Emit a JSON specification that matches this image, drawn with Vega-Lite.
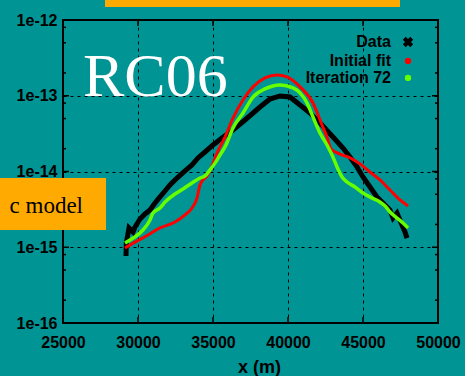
{
  "$schema": "https://vega.github.io/schema/vega-lite/v6.json",
  "width": 375,
  "height": 303,
  "autosize": "none",
  "padding": {"left": 63, "top": 20, "right": 27, "bottom": 53},
  "background": "#009494",
  "config": {
    "view": {"stroke": "#000000", "strokeWidth": 2, "fill": "#009494"},
    "axis": {
      "zindex": 0,
      "domain": false,
      "ticks": false,
      "grid": true,
      "gridColor": "#000000",
      "gridOpacity": 1,
      "gridWidth": 1,
      "gridDash": [3, 4],
      "labelFont": "Liberation Sans",
      "labelFontWeight": "bold",
      "labelFontSize": 16,
      "labelColor": "#000000",
      "titleFont": "Liberation Sans",
      "titleFontWeight": "bold",
      "titleColor": "#000000"
    }
  },
  "datasets": {
    "one": [{}],
    "yminor": [
      {"v": 2e-16}, {"v": 5e-16}, {"v": 8e-16},
      {"v": 2e-15}, {"v": 5e-15}, {"v": 8e-15},
      {"v": 2e-14}, {"v": 5e-14}, {"v": 8e-14},
      {"v": 2e-13}, {"v": 5e-13}, {"v": 8e-13}
    ],
    "ymajor": [{"v": 1e-15}, {"v": 1e-14}, {"v": 1e-13}],
    "xmajor": [{"v": 30000}, {"v": 35000}, {"v": 40000}, {"v": 45000}],
    "curves": [
      {"s": "Data", "x": 29200, "y": 7.66e-16},
      {"s": "Data", "x": 29220, "y": 1.14e-15},
      {"s": "Data", "x": 29400, "y": 1.80e-15},
      {"s": "Data", "x": 29667, "y": 1.59e-15},
      {"s": "Data", "x": 29800, "y": 1.85e-15},
      {"s": "Data", "x": 30133, "y": 2.36e-15},
      {"s": "Data", "x": 30467, "y": 2.75e-15},
      {"s": "Data", "x": 30800, "y": 3.10e-15},
      {"s": "Data", "x": 31133, "y": 3.84e-15},
      {"s": "Data", "x": 31467, "y": 4.61e-15},
      {"s": "Data", "x": 31800, "y": 5.53e-15},
      {"s": "Data", "x": 32133, "y": 6.64e-15},
      {"s": "Data", "x": 32600, "y": 8.20e-15},
      {"s": "Data", "x": 33133, "y": 1.02e-14},
      {"s": "Data", "x": 33600, "y": 1.22e-14},
      {"s": "Data", "x": 34000, "y": 1.51e-14},
      {"s": "Data", "x": 34467, "y": 1.81e-14},
      {"s": "Data", "x": 35000, "y": 2.24e-14},
      {"s": "Data", "x": 35600, "y": 2.77e-14},
      {"s": "Data", "x": 36333, "y": 3.53e-14},
      {"s": "Data", "x": 37133, "y": 4.79e-14},
      {"s": "Data", "x": 38133, "y": 7.10e-14},
      {"s": "Data", "x": 38800, "y": 9.06e-14},
      {"s": "Data", "x": 39467, "y": 9.93e-14},
      {"s": "Data", "x": 40133, "y": 9.62e-14},
      {"s": "Data", "x": 40800, "y": 7.55e-14},
      {"s": "Data", "x": 41467, "y": 5.92e-14},
      {"s": "Data", "x": 42133, "y": 4.37e-14},
      {"s": "Data", "x": 43000, "y": 2.85e-14},
      {"s": "Data", "x": 43667, "y": 2.04e-14},
      {"s": "Data", "x": 44133, "y": 1.55e-14},
      {"s": "Data", "x": 44600, "y": 1.15e-14},
      {"s": "Data", "x": 45000, "y": 8.46e-15},
      {"s": "Data", "x": 45467, "y": 6.24e-15},
      {"s": "Data", "x": 45933, "y": 4.61e-15},
      {"s": "Data", "x": 46333, "y": 3.84e-15},
      {"s": "Data", "x": 46800, "y": 3.10e-15},
      {"s": "Data", "x": 47000, "y": 2.43e-15},
      {"s": "Data", "x": 47267, "y": 2.83e-15},
      {"s": "Data", "x": 47600, "y": 1.97e-15},
      {"s": "Data", "x": 47800, "y": 1.59e-15},
      {"s": "Data", "x": 47933, "y": 1.32e-15},
      {"s": "Initial fit", "x": 29133, "y": 9.78e-16},
      {"s": "Initial fit", "x": 29800, "y": 1.17e-15},
      {"s": "Initial fit", "x": 30667, "y": 1.45e-15},
      {"s": "Initial fit", "x": 31467, "y": 1.80e-15},
      {"s": "Initial fit", "x": 32467, "y": 2.15e-15},
      {"s": "Initial fit", "x": 33133, "y": 2.67e-15},
      {"s": "Initial fit", "x": 33600, "y": 3.30e-15},
      {"s": "Initial fit", "x": 33933, "y": 4.47e-15},
      {"s": "Initial fit", "x": 34133, "y": 6.64e-15},
      {"s": "Initial fit", "x": 34333, "y": 7.73e-15},
      {"s": "Initial fit", "x": 34600, "y": 8.73e-15},
      {"s": "Initial fit", "x": 34933, "y": 1.18e-14},
      {"s": "Initial fit", "x": 35267, "y": 1.75e-14},
      {"s": "Initial fit", "x": 35800, "y": 2.85e-14},
      {"s": "Initial fit", "x": 36333, "y": 5.08e-14},
      {"s": "Initial fit", "x": 37000, "y": 8.79e-14},
      {"s": "Initial fit", "x": 37667, "y": 1.31e-13},
      {"s": "Initial fit", "x": 38467, "y": 1.72e-13},
      {"s": "Initial fit", "x": 39267, "y": 1.88e-13},
      {"s": "Initial fit", "x": 39933, "y": 1.77e-13},
      {"s": "Initial fit", "x": 40800, "y": 1.31e-13},
      {"s": "Initial fit", "x": 41667, "y": 8.02e-14},
      {"s": "Initial fit", "x": 42267, "y": 4.11e-14},
      {"s": "Initial fit", "x": 42600, "y": 2.85e-14},
      {"s": "Initial fit", "x": 42867, "y": 1.98e-14},
      {"s": "Initial fit", "x": 43467, "y": 1.70e-14},
      {"s": "Initial fit", "x": 44133, "y": 1.51e-14},
      {"s": "Initial fit", "x": 44800, "y": 1.26e-14},
      {"s": "Initial fit", "x": 45467, "y": 9.85e-15},
      {"s": "Initial fit", "x": 46133, "y": 7.73e-15},
      {"s": "Initial fit", "x": 46800, "y": 5.70e-15},
      {"s": "Initial fit", "x": 47467, "y": 4.21e-15},
      {"s": "Initial fit", "x": 48000, "y": 3.51e-15},
      {"s": "Iteration 72", "x": 29133, "y": 1.14e-15},
      {"s": "Iteration 72", "x": 29467, "y": 1.25e-15},
      {"s": "Iteration 72", "x": 29800, "y": 1.37e-15},
      {"s": "Iteration 72", "x": 30333, "y": 1.69e-15},
      {"s": "Iteration 72", "x": 30800, "y": 2.29e-15},
      {"s": "Iteration 72", "x": 31000, "y": 2.83e-15},
      {"s": "Iteration 72", "x": 31467, "y": 3.30e-15},
      {"s": "Iteration 72", "x": 31800, "y": 3.95e-15},
      {"s": "Iteration 72", "x": 32467, "y": 5.05e-15},
      {"s": "Iteration 72", "x": 33000, "y": 5.88e-15},
      {"s": "Iteration 72", "x": 33600, "y": 7.05e-15},
      {"s": "Iteration 72", "x": 34133, "y": 8.20e-15},
      {"s": "Iteration 72", "x": 34467, "y": 8.73e-15},
      {"s": "Iteration 72", "x": 34800, "y": 1.05e-14},
      {"s": "Iteration 72", "x": 35133, "y": 1.29e-14},
      {"s": "Iteration 72", "x": 35467, "y": 1.65e-14},
      {"s": "Iteration 72", "x": 35867, "y": 2.24e-14},
      {"s": "Iteration 72", "x": 36333, "y": 3.75e-14},
      {"s": "Iteration 72", "x": 37000, "y": 5.92e-14},
      {"s": "Iteration 72", "x": 37667, "y": 9.62e-14},
      {"s": "Iteration 72", "x": 38467, "y": 1.23e-13},
      {"s": "Iteration 72", "x": 39467, "y": 1.39e-13},
      {"s": "Iteration 72", "x": 40333, "y": 1.27e-13},
      {"s": "Iteration 72", "x": 40800, "y": 1.09e-13},
      {"s": "Iteration 72", "x": 41267, "y": 8.02e-14},
      {"s": "Iteration 72", "x": 41667, "y": 5.24e-14},
      {"s": "Iteration 72", "x": 42133, "y": 3.22e-14},
      {"s": "Iteration 72", "x": 42600, "y": 2.24e-14},
      {"s": "Iteration 72", "x": 43000, "y": 1.55e-14},
      {"s": "Iteration 72", "x": 43267, "y": 1.15e-14},
      {"s": "Iteration 72", "x": 43600, "y": 8.46e-15},
      {"s": "Iteration 72", "x": 43933, "y": 7.26e-15},
      {"s": "Iteration 72", "x": 44467, "y": 6.24e-15},
      {"s": "Iteration 72", "x": 45000, "y": 5.20e-15},
      {"s": "Iteration 72", "x": 45600, "y": 4.47e-15},
      {"s": "Iteration 72", "x": 46133, "y": 3.95e-15},
      {"s": "Iteration 72", "x": 46467, "y": 3.51e-15},
      {"s": "Iteration 72", "x": 46800, "y": 2.92e-15},
      {"s": "Iteration 72", "x": 47267, "y": 2.43e-15},
      {"s": "Iteration 72", "x": 47667, "y": 2.09e-15},
      {"s": "Iteration 72", "x": 48000, "y": 1.80e-15}
    ]
  },
  "layer": [
    {
      "data": {"name": "curves"},
      "transform": [{"filter": "datum.s === 'Data'"}],
      "mark": {"type": "line", "color": "#000000", "strokeWidth": 5, "strokeJoin": "miter"},
      "encoding": {
        "x": {
          "field": "x", "type": "quantitative",
          "scale": {"domain": [25000, 50000], "nice": false, "zero": false},
          "axis": {
            "values": [25000, 30000, 35000, 40000, 45000, 50000],
            "format": "d",
            "labelFlush": false,
            "labelOverlap": false,
            "labelPadding": 11,
            "title": "x (m)",
            "titleFontSize": 18,
            "titleX": 196,
            "titleY": 49,
            "titleAlign": "center",
            "titleBaseline": "alphabetic",
            "titleAnchor": null
          }
        },
        "y": {
          "field": "y", "type": "quantitative",
          "scale": {"type": "log", "domain": [1e-16, 1e-12], "nice": false},
          "axis": {
            "values": [1e-16, 1e-15, 1e-14, 1e-13, 1e-12],
            "labelExpr": "'1e' + round(log(datum.value) / LN10)",
            "labelPadding": 6,
            "labelFlush": false,
            "labelOverlap": false,
            "title": null
          }
        }
      }
    },
    {
      "data": {"name": "curves"},
      "transform": [{"filter": "datum.s === 'Initial fit'"}],
      "mark": {"type": "line", "color": "#ff0000", "strokeWidth": 3, "interpolate": "monotone"},
      "encoding": {
        "x": {"field": "x", "type": "quantitative"},
        "y": {"field": "y", "type": "quantitative"}
      }
    },
    {
      "data": {"name": "curves"},
      "transform": [{"filter": "datum.s === 'Iteration 72'"}],
      "mark": {"type": "line", "color": "#66ff00", "strokeWidth": 3.5, "interpolate": "monotone"},
      "encoding": {
        "x": {"field": "x", "type": "quantitative"},
        "y": {"field": "y", "type": "quantitative"}
      }
    },
    {
      "data": {"name": "yminor"},
      "mark": {"type": "rule", "color": "#000000", "strokeWidth": 1.5},
      "encoding": {
        "x": {"datum": 25000, "type": "quantitative"},
        "x2": {"datum": 25200},
        "y": {"field": "v", "type": "quantitative"}
      }
    },
    {
      "data": {"name": "yminor"},
      "mark": {"type": "rule", "color": "#000000", "strokeWidth": 1.5},
      "encoding": {
        "x": {"datum": 49800, "type": "quantitative"},
        "x2": {"datum": 50000},
        "y": {"field": "v", "type": "quantitative"}
      }
    },
    {
      "data": {"name": "ymajor"},
      "mark": {"type": "rule", "color": "#000000", "strokeWidth": 1.5},
      "encoding": {
        "x": {"datum": 25000, "type": "quantitative"},
        "x2": {"datum": 25400},
        "y": {"field": "v", "type": "quantitative"}
      }
    },
    {
      "data": {"name": "ymajor"},
      "mark": {"type": "rule", "color": "#000000", "strokeWidth": 1.5},
      "encoding": {
        "x": {"datum": 49600, "type": "quantitative"},
        "x2": {"datum": 50000},
        "y": {"field": "v", "type": "quantitative"}
      }
    },
    {
      "data": {"name": "xmajor"},
      "mark": {"type": "rule", "color": "#000000", "strokeWidth": 1.5},
      "encoding": {
        "x": {"field": "v", "type": "quantitative"},
        "y": {"datum": 1e-12, "type": "quantitative"},
        "y2": {"datum": 8.33e-13}
      }
    },
    {
      "data": {"name": "xmajor"},
      "mark": {"type": "rule", "color": "#000000", "strokeWidth": 1.5},
      "encoding": {
        "x": {"field": "v", "type": "quantitative"},
        "y": {"datum": 1e-16, "type": "quantitative"},
        "y2": {"datum": 1.2e-16}
      }
    },
    {
      "data": {"name": "one"},
      "mark": {"type": "rect", "color": "#ffaa00", "clip": false},
      "encoding": {
        "x": {"datum": 20000, "type": "quantitative"},
        "x2": {"datum": 27867},
        "y": {"datum": 8.2e-15, "type": "quantitative"},
        "y2": {"datum": 1.69e-15}
      }
    },
    {
      "data": {"name": "one"},
      "mark": {"type": "rect", "color": "#ffaa00", "clip": false},
      "encoding": {
        "x": {"datum": 27800, "type": "quantitative"},
        "x2": {"datum": 47467},
        "y": {"datum": 3e-12, "type": "quantitative"},
        "y2": {"datum": 1.49e-12}
      }
    },
    {
      "data": {"name": "one"},
      "mark": {"type": "text", "text": "c model", "font": "Liberation Serif", "fontSize": 23, "color": "#000000", "align": "right", "baseline": "alphabetic"},
      "encoding": {
        "x": {"datum": 26333, "type": "quantitative"},
        "y": {"datum": 2.83e-15, "type": "quantitative"}
      }
    },
    {
      "data": {"name": "one"},
      "mark": {"type": "text", "text": "RC06", "font": "Liberation Serif", "fontSize": 62, "color": "#ffffff", "align": "left", "baseline": "alphabetic"},
      "encoding": {
        "x": {"datum": 26333, "type": "quantitative"},
        "y": {"datum": 9.93e-14, "type": "quantitative"}
      }
    },
    {
      "data": {"name": "one"},
      "mark": {"type": "text", "text": "Data", "font": "Liberation Sans", "fontWeight": "bold", "fontSize": 16, "color": "#000000", "align": "right", "baseline": "alphabetic"},
      "encoding": {
        "x": {"datum": 46867, "type": "quantitative"},
        "y": {"datum": 4.4e-13, "type": "quantitative"}
      }
    },
    {
      "data": {"name": "one"},
      "mark": {"type": "text", "text": "Initial fit", "font": "Liberation Sans", "fontWeight": "bold", "fontSize": 16, "color": "#000000", "align": "right", "baseline": "alphabetic"},
      "encoding": {
        "x": {"datum": 46867, "type": "quantitative"},
        "y": {"datum": 2.47e-13, "type": "quantitative"}
      }
    },
    {
      "data": {"name": "one"},
      "mark": {"type": "text", "text": "Iteration 72", "font": "Liberation Sans", "fontWeight": "bold", "fontSize": 16, "color": "#000000", "align": "right", "baseline": "alphabetic"},
      "encoding": {
        "x": {"datum": 46867, "type": "quantitative"},
        "y": {"datum": 1.47e-13, "type": "quantitative"}
      }
    },
    {
      "data": {"name": "one"},
      "mark": {"type": "point", "shape": "cross", "angle": 45, "filled": true, "size": 110, "color": "#000000", "opacity": 1},
      "encoding": {
        "x": {"datum": 48000, "type": "quantitative"},
        "y": {"datum": 5.12e-13, "type": "quantitative"}
      }
    },
    {
      "data": {"name": "one"},
      "mark": {"type": "point", "shape": "circle", "filled": true, "size": 40, "color": "#ff0000", "opacity": 1},
      "encoding": {
        "x": {"datum": 48000, "type": "quantitative"},
        "y": {"datum": 2.88e-13, "type": "quantitative"}
      }
    },
    {
      "data": {"name": "one"},
      "mark": {"type": "point", "shape": "circle", "filled": true, "size": 40, "color": "#66ff00", "opacity": 1},
      "encoding": {
        "x": {"datum": 48000, "type": "quantitative"},
        "y": {"datum": 1.72e-13, "type": "quantitative"}
      }
    }
  ]
}
